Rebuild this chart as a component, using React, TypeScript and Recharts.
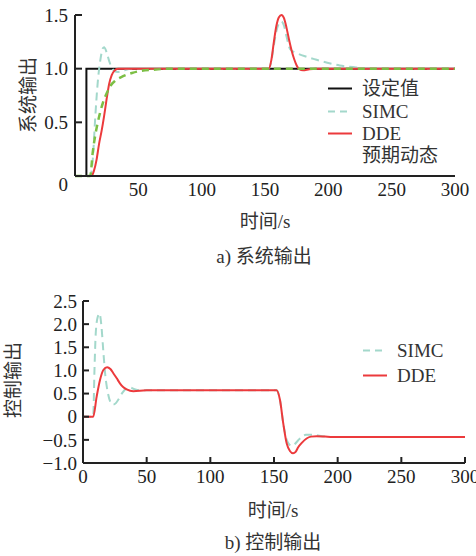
import { LineChart, Line, XAxis, YAxis } from "recharts";

// a) system output
const setpointT = [0, 9, 9, 300];
const setpointV = [0, 0, 1, 1];

const simcOutT = [0, 12, 14, 16, 18, 20, 22, 23, 25, 27, 29, 31, 34, 38, 44, 153, 155, 157, 159, 161, 163, 165, 167, 170, 176, 183, 190, 196, 203, 209, 222, 235, 300];
const simcOutV = [0, 0, 0.15, 0.55, 0.88, 1.08, 1.19, 1.2, 1.15, 1.07, 1.01, 0.98, 0.97, 0.98, 1.0, 1.0, 1.07, 1.22, 1.35, 1.42, 1.44, 1.4, 1.3, 1.18, 1.14, 1.11, 1.085, 1.065, 1.045, 1.03, 1.012, 1.0, 1.0];

const ddeOutT = [0, 13, 15, 17, 19, 21, 23, 25, 27, 29, 31, 34, 153, 155, 157, 159, 161, 163, 165, 167, 169, 171, 173, 175, 177, 180, 185, 190, 300];
const ddeOutV = [0, 0, 0.05, 0.15, 0.3, 0.42, 0.56, 0.72, 0.86, 0.94, 0.98, 1.0, 1.0, 1.08, 1.25, 1.4, 1.48, 1.5, 1.47, 1.38, 1.27, 1.17, 1.09, 1.03, 0.995, 0.985, 0.995, 1.0, 1.0];

const expectT = [0, 12, 14, 16, 18, 20, 22, 25, 28, 32, 38, 45, 52, 62, 75, 300];
const expectV = [0, 0, 0.22, 0.38, 0.5, 0.6, 0.68, 0.77, 0.84, 0.89, 0.93, 0.96, 0.98, 0.99, 1.0, 1.0];

// b) control output
const simcCtrlT = [0, 8, 9, 10, 11.5, 13, 14.5, 16, 17.5, 19.5, 21.5, 23.5, 26, 28, 31, 34, 37, 40, 45, 152, 154.7, 157.3, 160, 162, 164, 166, 169, 172, 175, 180, 190, 200, 300];
const simcCtrlV = [0, 0, 1.0, 1.8, 2.15, 2.23, 1.95, 1.4, 0.9, 0.52, 0.32, 0.26, 0.3, 0.38, 0.52, 0.61, 0.63, 0.6, 0.57, 0.57, 0.36, -0.15, -0.5, -0.6, -0.63, -0.6, -0.51, -0.43, -0.39, -0.39, -0.43, -0.44, -0.44];

const ddeCtrlT = [0, 8, 10.7, 13.3, 16, 19, 21.5, 23.8, 26.5, 29, 31.5, 34.3, 39.5, 50, 152, 154.7, 157.3, 160, 162.5, 165, 167, 169, 172, 175.6, 179, 183.5, 190, 196, 300];
const ddeCtrlV = [0, 0, 0.43, 0.79, 1.01, 1.07, 1.03, 0.94, 0.83, 0.72, 0.64, 0.59, 0.55, 0.57, 0.57, 0.36, -0.15, -0.58, -0.74, -0.79, -0.76, -0.66, -0.56, -0.47, -0.43, -0.42, -0.43, -0.44, -0.44];

const topXTicks = [50, 100, 150, 200, 250, 300];
const topYTicks = [0, 0.5, 1.0, 1.5];
const botXTicks = [0, 50, 100, 150, 200, 250, 300];
const botYTicks = [-1.0, -0.5, 0, 0.5, 1.0, 1.5, 2.0, 2.5];

const pts = (t: number[], v: number[]) => t.map((x, i) => ({ t: x, v: v[i] }));

const FONT = "'Liberation Serif', 'Noto Sans CJK SC', serif";
const AXIS = "#222";
const BLACK = "#111";
const TEAL = "#a3d8cb";
const RED = "#ec3a3c";
const GREEN = "#7cbf45";

const fmt = (v: number) => (v === 0 ? "0" : v.toFixed(1).replace("-", "\u2212"));
const tickStyle = { fontFamily: FONT, fontSize: 19, fill: "#222" };

const TopYTick = (props: any) => {
  const { x, y, payload } = props;
  return (
    <text x={x} y={y + (payload.value === 0 ? 8 : 0)} dy="0.355em" textAnchor="end" {...tickStyle}>
      {fmt(payload.value)}
    </text>
  );
};

const Title = ({ x, y, text, rotate }: { x: number; y: number; text: string; rotate?: boolean }) => (
  <div
    style={{
      position: "absolute",
      left: x,
      top: y,
      transform: `translate(-50%, -50%)${rotate ? " rotate(-90deg)" : ""}`,
      whiteSpace: "nowrap",
      fontFamily: FONT,
      fontSize: 19,
      color: "#333",
      lineHeight: 1,
    }}
  >
    {text}
  </div>
);

const LegendRow = ({ y, x, label, color, dash }: { y: number; x: number; label: string; color?: string; dash?: boolean }) => (
  <div style={{ position: "absolute", left: x, top: y, display: "flex", alignItems: "center", transform: "translateY(-50%)" }}>
    <svg width={24} height={6} style={{ marginRight: 10 }}>
      {color && (
        <line x1={0} y1={3} x2={24} y2={3} stroke={color} strokeWidth={2} strokeDasharray={dash ? "7 5" : undefined} />
      )}
    </svg>
    <span style={{ fontFamily: FONT, fontSize: 19, color: "#333", lineHeight: 1 }}>{label}</span>
  </div>
);

export default function App() {
  return (
    <div style={{ position: "absolute", left: 0, top: 0, width: 476, height: 556, background: "#fff", overflow: "hidden" }}>
      <div style={{ position: "absolute", left: 0, top: 0 }}>
        <LineChart width={476} height={280} margin={{ top: 15, right: 21, bottom: 74, left: 0 }}>
          <XAxis
            type="number"
            dataKey="t"
            domain={[0, 300]}
            ticks={topXTicks}
            interval={0}
            allowDataOverflow
            stroke={AXIS}
            strokeWidth={2}
            tickLine={false}
            tickSize={0}
            tickMargin={7}
            height={30}
            tick={tickStyle}
          />
          <YAxis
            type="number"
            domain={[0, 1.5]}
            ticks={topYTicks}
            interval={0}
            width={75}
            stroke={AXIS}
            strokeWidth={2}
            tickSize={-7}
            tickMargin={14}
            tick={<TopYTick />}
          />
          <Line data={pts(setpointT, setpointV)} dataKey="v" type="linear" stroke={BLACK} strokeWidth={2} dot={false} isAnimationActive={false} />
          <Line data={pts(simcOutT, simcOutV)} dataKey="v" type="monotone" stroke={TEAL} strokeWidth={2} strokeDasharray="8 5" dot={false} isAnimationActive={false} />
          <Line data={pts(ddeOutT, ddeOutV)} dataKey="v" type="monotone" stroke={RED} strokeWidth={2} dot={false} isAnimationActive={false} />
          <Line data={pts(expectT, expectV)} dataKey="v" type="monotone" stroke={GREEN} strokeWidth={2.5} strokeDasharray="7 5" dot={false} isAnimationActive={false} />
        </LineChart>
      </div>
      <LegendRow x={328} y={88} label="设定值" color={BLACK} />
      <LegendRow x={328} y={111} label="SIMC" color={TEAL} dash />
      <LegendRow x={328} y={133} label="DDE" color={RED} />
      <LegendRow x={328} y={155} label="预期动态" />
      <Title x={28} y={95} text="系统输出" rotate />
      <Title x={265} y={221} text="时间/s" />
      <Title x={264} y={256} text="a) 系统输出" />

      <div style={{ position: "absolute", left: 0, top: 280 }}>
        <LineChart width={476} height={276} margin={{ top: 21, right: 11, bottom: 63, left: 0 }}>
          <XAxis
            type="number"
            dataKey="t"
            domain={[0, 300]}
            ticks={botXTicks}
            interval={0}
            allowDataOverflow
            stroke={AXIS}
            strokeWidth={2}
            tickSize={-6}
            tickMargin={13}
            height={30}
            tick={tickStyle}
          />
          <YAxis
            type="number"
            domain={[-1, 2.5]}
            ticks={botYTicks}
            interval={0}
            tickFormatter={fmt}
            width={83}
            stroke={AXIS}
            strokeWidth={2}
            tickSize={-6}
            tickMargin={12}
            tick={tickStyle}
          />
          <Line data={pts(simcCtrlT, simcCtrlV)} dataKey="v" type="monotone" stroke={TEAL} strokeWidth={2} strokeDasharray="8 5" dot={false} isAnimationActive={false} />
          <Line data={pts(ddeCtrlT, ddeCtrlV)} dataKey="v" type="monotone" stroke={RED} strokeWidth={2} dot={false} isAnimationActive={false} />
        </LineChart>
      </div>
      <LegendRow x={363} y={350} label="SIMC" color={TEAL} dash />
      <LegendRow x={363} y={375} label="DDE" color={RED} />
      <Title x={13} y={380} text="控制输出" rotate />
      <Title x={273} y={510} text="时间/s" />
      <Title x={273} y={542} text="b) 控制输出" />
    </div>
  );
}
